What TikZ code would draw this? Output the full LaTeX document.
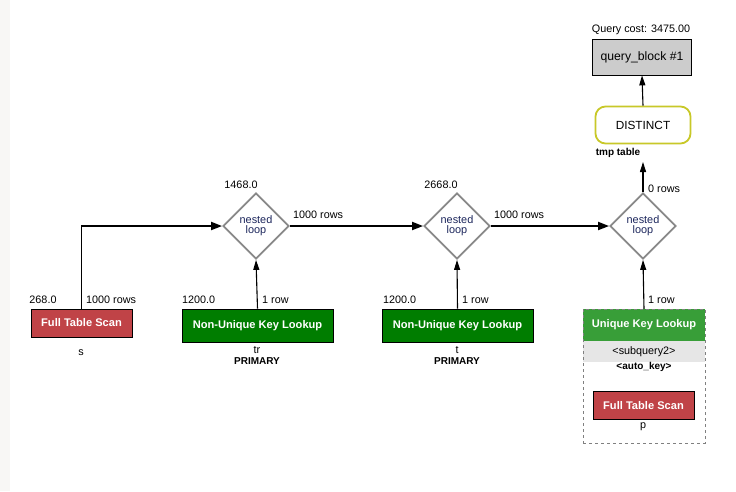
\documentclass[tikz,border=0pt]{standalone}
\usepackage{fontspec}
\setmainfont{Liberation Sans}
\usetikzlibrary{shapes.geometric,arrows.meta}
\definecolor{scanred}{RGB}{192,67,71}
\definecolor{darkgreen}{RGB}{0,125,0}
\definecolor{ukgreen}{RGB}{56,158,56}
\definecolor{loopblue}{RGB}{28,38,92}
\definecolor{diagray}{RGB}{136,136,136}
\definecolor{distyellow}{RGB}{200,200,40}
\definecolor{bandgray}{RGB}{230,230,230}
\definecolor{stripgray}{RGB}{248,247,245}
\begin{document}
\begin{tikzpicture}[x=1pt,y=-1pt,
  every node/.style={font=\fontsize{10.8}{12}\selectfont, inner sep=0pt},
  lbl/.style={text=black},
  blbl/.style={font=\fontsize{10}{11}\selectfont\bfseries},
  opbox/.style={draw=black, line width=0.9pt, text=white, font=\fontsize{11.1}{12}\selectfont\bfseries},
  scanbox/.style={opbox, fill=scanred, minimum width=101pt, minimum height=28pt},
  nukbox/.style={opbox, fill=darkgreen, minimum width=151pt, minimum height=33pt},
  loopnode/.style={diamond, draw=diagray, line width=1.8pt, fill=white, minimum width=66pt, minimum height=66pt, aspect=1, text=loopblue, align=center, font=\fontsize{10.9}{10}\selectfont},
  thick arrow/.style={line width=1.9pt, -{Triangle[length=11pt,width=8pt]}},
  thin arrow/.style={line width=1.1pt, -{Triangle[length=10pt,width=6pt]}}
]
\useasboundingbox (0,0) rectangle (736,491);
\fill[white] (0,0) rectangle (736,491);
\fill[stripgray] (0,0) rectangle (10,491);

% query block
\node[draw=black, line width=0.8pt, fill=black!20, minimum width=99pt, minimum height=36pt, font=\fontsize{12.2}{13}\selectfont] (qb) at (642,57) {query\_block \#1};
\node[lbl] (qc) at (641,30) {Query cost: 3475.00};

% distinct
\node[draw=distyellow, line width=1.8pt, rounded corners=10pt, minimum width=95pt, minimum height=37pt, font=\fontsize{11.8}{13}\selectfont] (dist) at (643,125) {DISTINCT};
\node[blbl] (tmp) at (618,153) {tmp table};
\coordinate (dend) at (643,162);

% nested loops
\node[loopnode] (d1) at (256,226) {nested\\loop};
\node[loopnode] (d2) at (457,226) {nested\\loop};
\node[loopnode] (d3) at (643,226) {nested\\loop};
\node[lbl] (c1) at (241,185) {1468.0};
\node[lbl] (c2) at (441,185) {2668.0};
\node[lbl, anchor=west] (r1) at (293,215) {1000 rows};
\node[lbl, anchor=west] (r2) at (494,215) {1000 rows};
\node[lbl, anchor=west] (r3) at (648,189) {0 rows};

% table s
\node[scanbox] (s) at (81.5,323) {Full Table Scan};
\node[lbl] (sn) at (81,353) {s};
\node[lbl] (sc) at (43,300) {268.0};
\node[lbl, anchor=west] (sr) at (86,300) {1000 rows};

% table tr
\node[nukbox] (tr) at (257.5,325.5) {Non-Unique Key Lookup};
\node[lbl] (trn) at (257,350) {tr};
\node[blbl] (trk) at (257,361) {PRIMARY};
\node[lbl, anchor=west] (trc) at (182,300) {1200.0};
\node[lbl, anchor=west] (trr) at (262,300) {1 row};

% table t
\node[nukbox] (t) at (457.5,325.5) {Non-Unique Key Lookup};
\node[lbl] (tn) at (457,350) {t};
\node[blbl] (tk) at (457,361) {PRIMARY};
\node[lbl, anchor=west] (tc) at (383,300) {1200.0};
\node[lbl, anchor=west] (tr1) at (462,300) {1 row};

% unique key lookup (subquery)
\node[fill=ukgreen, text=white, font=\fontsize{11.1}{12}\selectfont\bfseries, minimum width=122pt, minimum height=32pt] (ukh) at (644,325) {Unique Key Lookup};
\node[fill=bandgray, minimum width=122pt, minimum height=21pt] (ukb) at (644,351.5) {<subquery2>};
\node[draw=black!50, dashed, line width=0.7pt, minimum width=122pt, minimum height=134pt] (uk) at (644,376) {};
\node[blbl] (ukk) at (644,367) {<auto\_key>};
\node[scanbox] (p) at (643.5,405.5) {Full Table Scan};
\node[lbl] (pn) at (643,427) {p};
\node[lbl, anchor=west] (ukr) at (648,300) {1 row};

% connectors
\draw[thick arrow] (s.north) -- (s.north |- d1.west) -- (d1.west);
\draw[thin arrow] (tr.north) -- (d1.south);
\draw[thick arrow] (d1.east) -- (d2.west);
\draw[thin arrow] (t.north) -- (d2.south);
\draw[thick arrow] (d2.east) -- (d3.west);
\draw[thin arrow] (ukh.north) -- (d3.south);
\draw[thin arrow] (d3.north) -- (dend);
\draw[thin arrow] (dist.north) -- (qb.south);
\end{tikzpicture}
\end{document}
